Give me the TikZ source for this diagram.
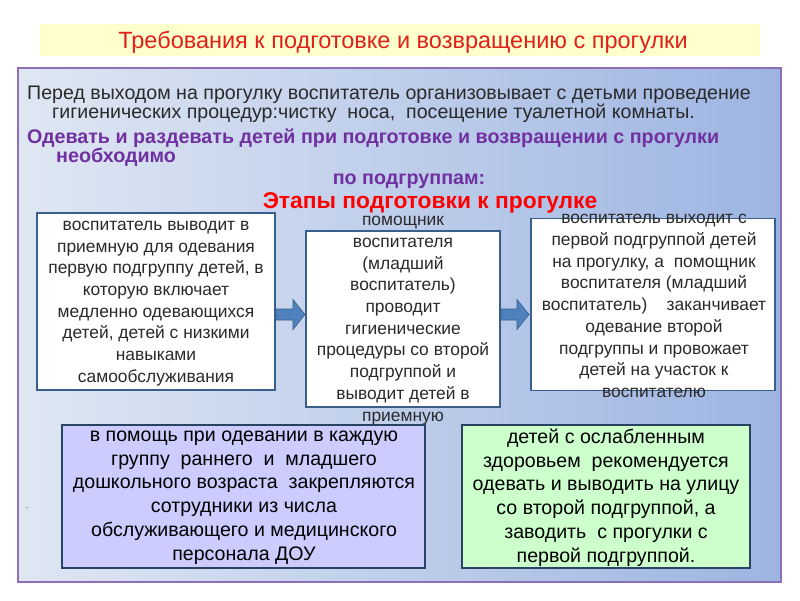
\documentclass[tikz,border=0pt]{standalone}
\usepackage{fontspec}
\setmainfont{Liberation Sans}
\definecolor{titlebg}{HTML}{FFFFCC}
\definecolor{titlered}{HTML}{E0201A}
\definecolor{panelL}{HTML}{DFE7F3}
\definecolor{panelR}{HTML}{9DB4E2}
\definecolor{panelborder}{HTML}{8E6FB5}
\definecolor{purpletext}{HTML}{7030A0}
\definecolor{boxborder}{HTML}{3A5F8C}
\definecolor{arrowfill}{HTML}{4F81BD}
\definecolor{arrowdraw}{HTML}{385D8A}
\definecolor{lavender}{HTML}{CCCCFF}
\definecolor{mint}{HTML}{CCFFCC}
\definecolor{textgray}{HTML}{2A2A2A}
\tikzset{
  stagebox/.style={draw=boxborder, line width=1.8pt, fill=white, inner sep=0pt},
  bottombox/.style={draw=boxborder!70!black, line width=1.8pt, inner sep=0pt},
  stagetext/.style={align=center, text=textgray, font=\fontsize{17.4}{21.7}\selectfont, inner sep=0pt},
  bottomtext/.style={align=center, text=black, font=\fontsize{19.6}{23.8}\selectfont, inner sep=0pt},
  introtext/.style={anchor=west, inner sep=0pt, text=textgray, font=\fontsize{19.6}{18.5}\selectfont},
  purpletxt/.style={inner sep=0pt, text=purpletext, font=\bfseries\fontsize{19.7}{19}\selectfont},
  blockarrowstyle/.style={fill=arrowfill, draw=arrowdraw, line width=0.6pt, line join=miter}
}
% block arrow: #1 start x, #2 tip x, #3 centre y
\newcommand\myblockarrow[3]{%
  \filldraw[blockarrowstyle] (#1,#3-5.5) -- (#2-12,#3-5.5) -- (#2-12,#3-15) -- (#2,#3)
    -- (#2-12,#3+15) -- (#2-12,#3+5.5) -- (#1,#3+5.5) -- cycle;}
\begin{document}
\begin{tikzpicture}[x=1pt,y=-1pt]
\useasboundingbox (0,0) rectangle (800,600);
\fill[white] (0,0) rectangle (800,600);
% title bar
\node[fill=titlebg, minimum width=720pt, minimum height=32pt, inner sep=0pt] (title) at (400,40) {};
\node[text=titlered, font=\fontsize{23.5}{26}\selectfont, inner sep=0pt] (titletext) at (403,42) {Требования к подготовке и возвращению с прогулки};
% main panel
\shade[left color=panelL, right color=panelR] (18,68) rectangle (781,582);
\draw[panelborder, line width=1.3pt] (18,68) rectangle (781,582);
\node[introtext] (intro1) at (27,95) {Перед выходом на прогулку воспитатель организовывает с детьми проведение};
\node[introtext] (intro2) at (52,113.5) {гигиенических процедур:чистку\ \ носа,\ \ посещение туалетной комнаты.};
\node[purpletxt, anchor=west] (dress1) at (27,138) {Одевать и раздевать детей при подготовке и возвращении с прогулки};
\node[purpletxt, anchor=west] (dress2) at (56,157.5) {необходимо};
\node[purpletxt] (subgroups) at (409,181) {по подгруппам:};
\node[inner sep=0pt, text=red, font=\bfseries\fontsize{22.8}{24}\selectfont] (stages) at (430,203) {Этапы подготовки к прогулке};
% stage boxes
\node[stagebox, minimum width=238pt, minimum height=177pt] (b1) at (156,301.5) {};
\node[stagetext] (t1) at (156,303.5) {воспитатель выводит в\\приемную для одевания\\первую подгруппу детей, в\\которую включает\\медленно одевающихся\\детей, детей с низкими\\навыками\\самообслуживания};
\node[stagebox, minimum width=194pt, minimum height=176pt] (b2) at (403,319) {};
\node[stagetext] (t2) at (403,320.5) {помощник\\воспитателя\\(младший\\воспитатель)\\проводит\\гигиенические\\процедуры со второй\\подгруппой и\\выводит детей в\\приемную};
\node[stagebox, minimum width=244pt, minimum height=172pt] (b3) at (653,304.5) {};
\node[stagetext] (t3) at (654,306) {воспитатель выходит с\\первой подгруппой детей\\на прогулку, а\ \ помощник\\воспитателя (младший\\воспитатель)\ \ \ \ заканчивает\\одевание второй\\подгруппы и провожает\\детей на участок к\\воспитателю};
% block arrows between stage boxes
\myblockarrow{276}{305}{314.5}
\myblockarrow{501}{529}{314.5}
% bottom boxes
\node[bottombox, fill=lavender, minimum width=363pt, minimum height=143pt] (b4) at (243.5,496.5) {};
\node[bottomtext] (t4) at (244,497.5) {в помощь при одевании в каждую\\группу\ \ раннего\ \ и\ \ младшего\\дошкольного возраста\ \ закрепляются\\сотрудники из числа\\обслуживающего и медицинского\\персонала ДОУ};
\node[bottombox, fill=mint, minimum width=288pt, minimum height=143pt] (b5) at (606,496.5) {};
\node[bottomtext] (t5) at (606,497.5) {детей с ослабленным\\здоровьем\ \ рекомендуется\\одевать и выводить на улицу\\со второй подгруппой, а\\заводить\ \ с прогулки с\\первой подгруппой.};
\node[inner sep=0pt, font=\fontsize{8}{8}\selectfont] (dot) at (27,508) {.};
\end{tikzpicture}
\end{document}
